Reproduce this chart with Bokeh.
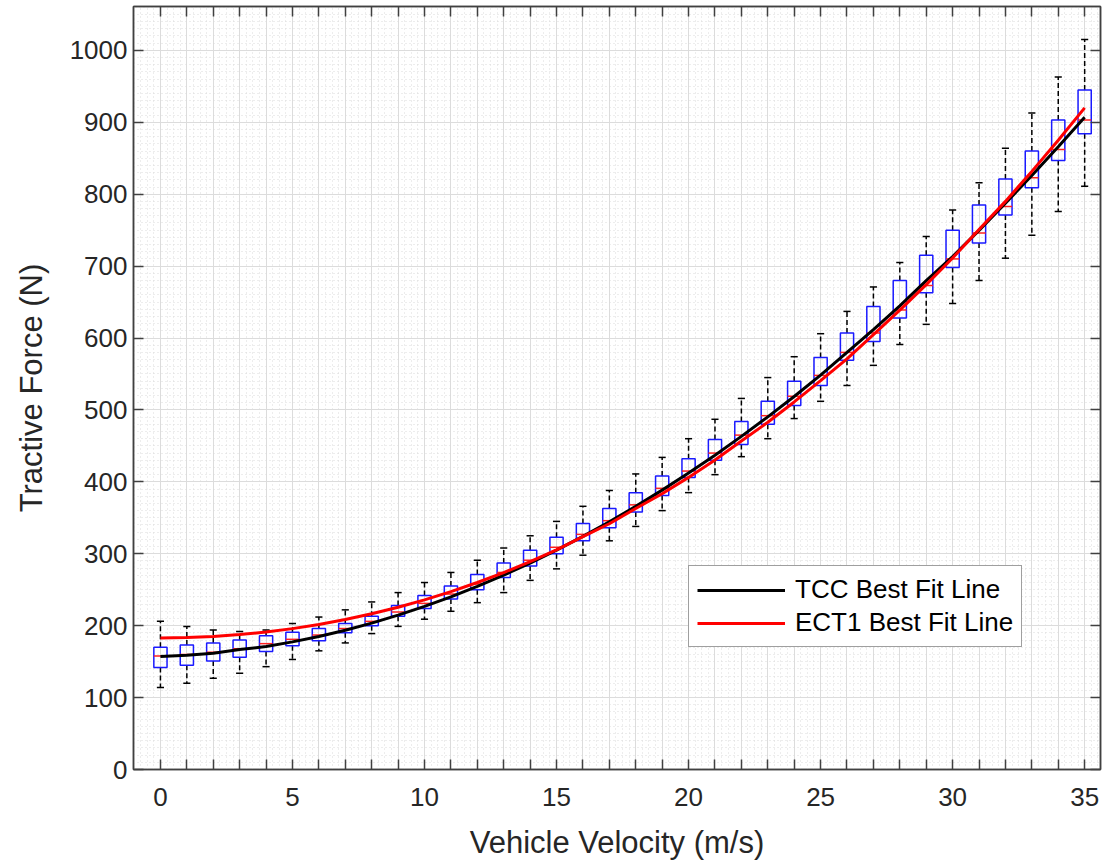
import numpy as np
from bokeh.plotting import figure
from bokeh.models import (FixedTicker, LinearAxis, Range1d, Legend, LegendItem,
                          ColumnDataSource)
from bokeh.embed import file_html
from bokeh.resources import INLINE

# ---------------- data ----------------
velocity = list(range(36))
upper_whisker = [206, 199, 194, 192, 194, 203, 212, 222, 233, 246, 260, 274, 291, 308,
                 325, 345, 366, 388, 411, 434, 460, 487, 516, 545, 574, 606, 637, 671,
                 705, 741, 778, 816, 864, 913, 963, 1015]
q3 = [170, 173, 176, 180, 186, 191, 196, 203, 213, 228, 242, 255, 271, 287, 305, 323,
      342, 363, 385, 408, 432, 459, 484, 512, 540, 573, 607, 644, 680, 715, 750, 785,
      821, 860, 903, 945]
median = [158, 160, 163, 168, 175, 181, 187, 196, 206, 219, 231, 244, 258, 274, 291, 309,
          327, 346, 368, 391, 415, 440, 465, 492, 519, 548, 580, 607, 639, 673, 710, 746,
          783, 823, 862, 903]
q1 = [142, 145, 151, 156, 164, 172, 179, 190, 200, 213, 224, 237, 250, 267, 283, 300,
      318, 336, 358, 381, 406, 430, 452, 480, 506, 534, 569, 595, 628, 663, 698, 732,
      771, 809, 847, 884]
lower_whisker = [114, 120, 127, 134, 143, 153, 165, 176, 189, 199, 209, 220, 232, 246,
                 263, 279, 298, 318, 338, 360, 385, 410, 435, 460, 488, 512, 534, 562,
                 591, 619, 648, 680, 711, 743, 776, 811]

tcc_fit = [157.0, 158.8, 161.7, 166.8, 171.0, 177.5, 185.0, 193.7, 203.6, 214.6, 226.8,
           240.1, 254.6, 270.3, 287.1, 305.1, 324.2, 344.4, 365.9, 388.5, 412.2, 437.1,
           463.2, 490.4, 518.7, 548.3, 579.9, 611.8, 644.8, 679.9, 713.2, 749.7, 787.3,
           826.1, 866.0, 907.0]
ect1_fit = [183.0, 183.5, 185.0, 187.6, 191.2, 195.9, 201.6, 208.5, 216.5, 225.6, 235.9,
            247.4, 260.0, 273.9, 289.0, 305.3, 323.9, 341.7, 362.9, 383.4, 406.2, 430.4,
            456.9, 482.8, 511.1, 540.8, 571.0, 604.6, 638.7, 674.2, 711.3, 750.9, 790.0,
            831.7, 875.0, 920.0]

x_tick_labels = {i: (str(i) if i % 5 == 0 else "") for i in velocity}
y_ticks = list(range(0, 1001, 100))

# ---------------- figure ----------------
FONT = "Liberation Sans"
TXT = "#262626"
AX = "#404040"

p = figure(width=1107, height=862, output_backend="svg", toolbar_location=None,
           x_range=Range1d(-1.02, 35.6), y_range=Range1d(0, 1061),
           min_border_left=133, min_border_right=7, min_border_top=6,
           min_border_bottom=93)
p.background_fill_color = "white"
p.border_fill_color = "white"
p.outline_line_color = AX
p.outline_line_width = 1.5

xt = FixedTicker(ticks=velocity, minor_ticks=list(np.arange(-1.0, 35.61, 0.25)))
yt = FixedTicker(ticks=y_ticks, minor_ticks=list(range(0, 1061, 10)))

for ax in p.xaxis:
    ax.ticker = xt
    ax.major_label_overrides = x_tick_labels
for ax in p.yaxis:
    ax.ticker = yt

def style_axis(ax, labels=True):
    ax.axis_line_color = AX
    ax.axis_line_width = 1.5
    ax.major_tick_line_color = AX
    ax.major_tick_line_width = 1.5
    ax.major_tick_in = 10
    ax.major_tick_out = 0
    ax.minor_tick_in = 0
    ax.minor_tick_out = 0
    ax.major_label_text_font = FONT
    ax.major_label_text_font_size = "26px"
    ax.major_label_text_color = TXT
    ax.axis_label_text_font = FONT
    ax.axis_label_text_font_size = "31px"
    ax.axis_label_text_color = TXT
    ax.axis_label_text_font_style = "normal"
    if not labels:
        ax.major_label_text_font_size = "0px"

p.xaxis.axis_label = "Vehicle Velocity (m/s)"
p.yaxis.axis_label = "Tractive Force (N)"
style_axis(p.xaxis[0])
style_axis(p.yaxis[0])
p.xaxis[0].major_label_standoff = 18
p.xaxis[0].axis_label_standoff = 16
p.yaxis[0].major_label_standoff = 6
p.yaxis[0].axis_label_standoff = 18

top_ax = LinearAxis(ticker=xt, major_label_overrides={i: "" for i in velocity})
right_ax = LinearAxis(ticker=yt, major_label_overrides={v: "" for v in y_ticks})
style_axis(top_ax, labels=False)
style_axis(right_ax, labels=False)
p.add_layout(top_ax, "above")
p.add_layout(right_ax, "right")

# grids
p.xgrid.ticker = xt
p.ygrid.ticker = yt
for g in (p.xgrid[0], p.ygrid[0]):
    g.grid_line_color = "#dcdcdc"
    g.grid_line_width = 1
    g.minor_grid_line_color = "#dadada"
    g.minor_grid_line_dash = "1 3"
    g.minor_grid_line_width = 1

# ---------------- boxes ----------------
bw = 0.5
cw = 0.27
src = ColumnDataSource(dict(
    x=velocity, left=[v - bw / 2 for v in velocity], right=[v + bw / 2 for v in velocity],
    q1=q1, q3=q3, med=median, lo=lower_whisker, hi=upper_whisker,
    cl=[v - cw / 2 for v in velocity], cr=[v + cw / 2 for v in velocity]))

p.segment(x0="x", y0="q3", x1="x", y1="hi", source=src, line_color="black",
          line_width=1.5, line_dash="5 3")
p.segment(x0="x", y0="q1", x1="x", y1="lo", source=src, line_color="black",
          line_width=1.5, line_dash="5 3")
p.segment(x0="cl", y0="hi", x1="cr", y1="hi", source=src, line_color="black",
          line_width=1.5)
p.segment(x0="cl", y0="lo", x1="cr", y1="lo", source=src, line_color="black",
          line_width=1.5)
p.quad(left="left", right="right", bottom="q1", top="q3", source=src,
       fill_color=None, line_color="#1a1aff", line_width=1.5)
p.segment(x0="left", y0="med", x1="right", y1="med", source=src, line_color="#ff2020",
          line_width=1.5)

# ---------------- fit lines ----------------
r_tcc = p.line(velocity, tcc_fit, line_color="black", line_width=3)
r_ect = p.line(velocity, ect1_fit, line_color="#ff0000", line_width=3)

legend = Legend(items=[LegendItem(label="TCC Best Fit Line", renderers=[r_tcc]),
                       LegendItem(label="ECT1 Best Fit Line", renderers=[r_ect])],
                location=(555, 122))
legend.label_text_font = FONT
legend.label_text_font_size = "26px"
legend.label_text_color = "black"
legend.glyph_width = 88
legend.glyph_height = 30
legend.label_height = 30
legend.label_standoff = 10
legend.spacing = 2
legend.padding = 8
legend.margin = 0
legend.border_line_color = AX
legend.border_line_width = 1.5
legend.background_fill_color = "white"
legend.background_fill_alpha = 1
p.add_layout(legend, "center")

open("out.html", "w").write(file_html(p, INLINE))
